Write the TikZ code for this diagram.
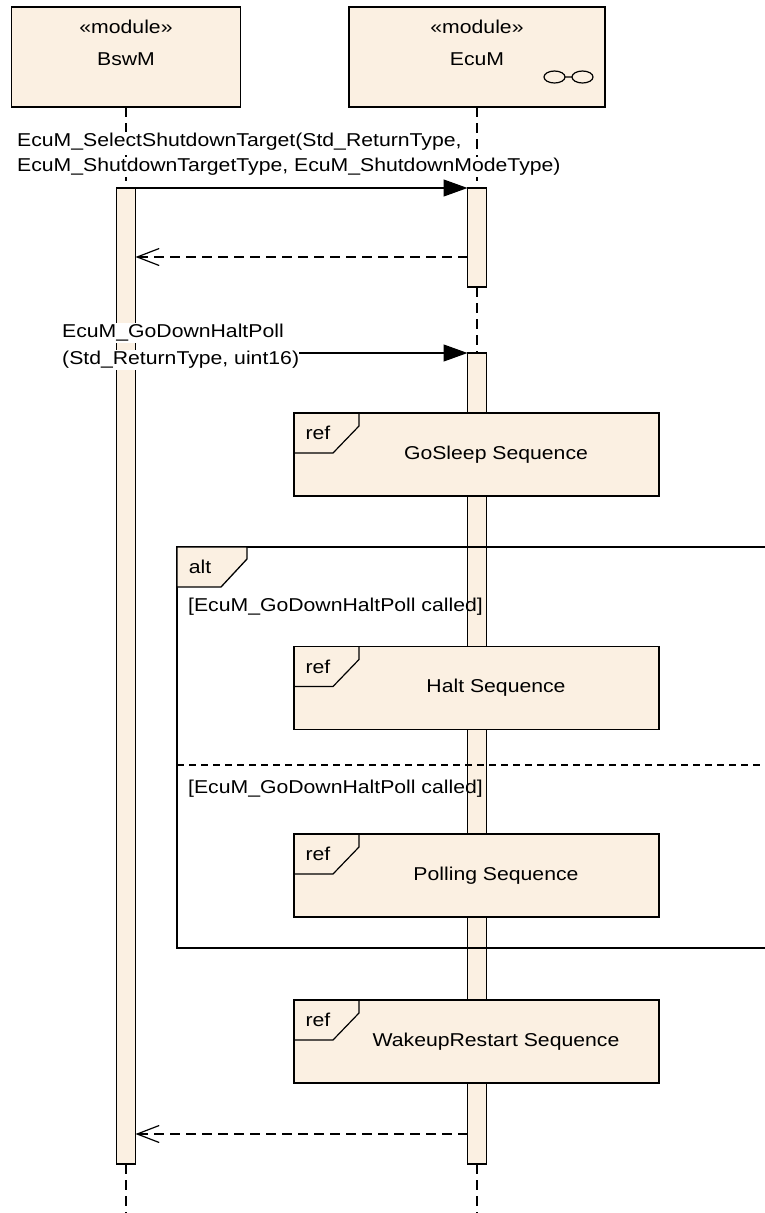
\documentclass[tikz,border=0pt]{standalone}
\usepackage{fontspec}
\newfontfamily\eafont{Liberation Sans}[FakeStretch=1.14]
\usetikzlibrary{positioning,arrows.meta}
\definecolor{eabeige}{RGB}{251,240,226}
\tikzset{
  lbl/.style={font=\eafont\fontsize{18.6pt}{22pt}\selectfont, inner sep=0pt},
  msglbl/.style={lbl, anchor=west, fill=white, inner ysep=1pt},
  modbox/.style={draw, fill=eabeige, line width=1.2pt, minimum height=100pt, outer sep=0pt},
  actbar/.style={draw, fill=eabeige, line width=1.2pt, minimum width=19pt, inner sep=0pt, outer sep=0pt},
  refbox/.style={draw, fill=eabeige, line width=1.3pt, minimum width=365pt, minimum height=83pt, inner sep=0pt, outer sep=0pt},
  lifeline/.style={line width=1.2pt, dash pattern=on 10pt off 6pt},
  msg/.style={line width=1.2pt, -{Triangle[length=24pt,width=17pt]}},
  reply/.style={line width=1.2pt, dash pattern=on 10pt off 6pt, -{Straight Barb[length=22pt,width=17pt,line width=1.2pt]}},
  frameline/.style={line width=1.3pt},
  sepline/.style={line width=1.2pt, dash pattern=on 7pt off 5pt}
}
\begin{document}
\begin{tikzpicture}[x=1pt,y=-1pt]
  \useasboundingbox (0,0) rectangle (765,1213);

  % Module heads
  \node[modbox, minimum width=229pt] (bswm) at (126,57) {};
  \node[modbox, minimum width=256pt] (ecum) at (477,57) {};
  \node[lbl] (bswmStereo) at (126,27) {«module»};
  \node[lbl] (bswmName) at (126,59) {BswM};
  \node[lbl] (ecumStereo) at (477,27) {«module»};
  \node[lbl] (ecumName) at (477,59) {EcuM};
  \draw[line width=1.2pt] (554.5,77) ellipse [x radius=10.5pt, y radius=6pt]
    (565,77) -- (572,77)
    (582.5,77) ellipse [x radius=10.5pt, y radius=6pt];

  % Activations
  \node[actbar, minimum height=976pt] (bswAct) at (126,676) {};
  \node[actbar, minimum height=99pt] (ecuActA) at (477,237.5) {};
  \node[actbar, minimum height=811pt] (ecuActB) at (477,758.5) {};

  % Lifelines
  \coordinate (bswEnd) at (126,1213);
  \coordinate (ecuEnd) at (477,1213);
  \draw[lifeline] (bswm.south) -- (bswAct.north);
  \draw[lifeline] (bswAct.south) -- (bswEnd);
  \draw[lifeline] (ecum.south) -- (ecuActA.north);
  \draw[lifeline] (ecuActA.south) -- (ecuActB.north);
  \draw[lifeline] (ecuActB.south) -- (ecuEnd);

  % Messages
  \coordinate (selReply) at (ecuActA.west |- 0,257);
  \coordinate (goDownCall) at (bswAct.east |- ecuActB.north);
  \coordinate (goDownReply) at (ecuActB.west |- 0,1134);
  \draw[msg] (bswAct.north east) -- (ecuActA.north west);
  \draw[reply] (selReply) -- (selReply -| bswAct.east);
  \draw[msg] (goDownCall) -- (ecuActB.north west);
  \draw[reply] (goDownReply) -- (goDownReply -| bswAct.east);

  \node[msglbl] (selLineA) at (17,142) {EcuM\_SelectShutdownTarget(Std\_ReturnType,};
  \node[msglbl] (selLineB) at (17,167) {EcuM\_ShutdownTargetType, EcuM\_ShutdownModeType)};
  \node[msglbl] (goDownLineA) at (62,333) {EcuM\_GoDownHaltPoll};
  \node[msglbl] (goDownLineB) at (62,360) {(Std\_ReturnType, uint16)};

  % alt fragment
  \draw[frameline] (765,547) -- (177,547) -- (177,948) -- (765,948);
  \draw[frameline, fill=eabeige] (177,547) -- (247,547) -- (247,559) -- (221,587) -- (177,587) -- cycle;
  \node[lbl] (altTag) at (200,567) {alt};
  \draw[sepline] (177,765) -- (765,765);
  \node[lbl, anchor=west] (guardHalt) at (188,607) {[EcuM\_GoDownHaltPoll called]};
  \node[lbl, anchor=west] (guardPoll) at (188,789) {[EcuM\_GoDownHaltPoll called]};

  % Interaction uses
  \foreach \name/\y/\txt in {goSleep/454.5/GoSleep Sequence, halt/688/Halt Sequence,
      polling/875.5/Polling Sequence, wakeup/1041.5/WakeupRestart Sequence} {
    \node[refbox] (\name) at (476.5,\y) {};
    \draw[line width=1.2pt] (\name.north west) ++(0,40) -- ++(39,0) -- ++(26,-27) -- ++(0,-13);
    \node[lbl] (\name-tag) at ([shift={(24,20)}]\name.north west) {ref};
    \node[lbl] (\name-txt) at (496,\y) {\txt};
  }
\end{tikzpicture}
\end{document}
